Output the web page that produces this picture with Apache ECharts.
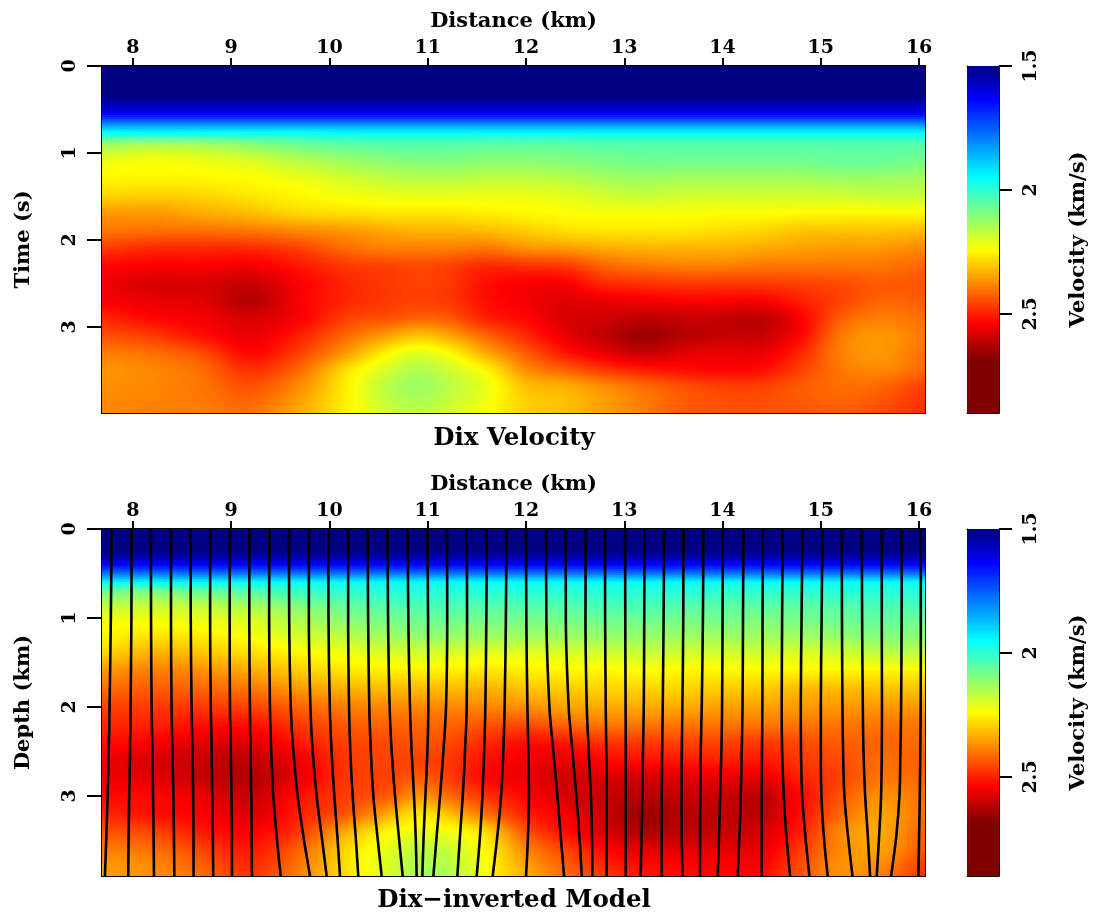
<!DOCTYPE html>
<html><head><meta charset="utf-8">
<style>html,body{margin:0;padding:0;background:#fff}#c{width:1096px;height:913px}</style>
<script src="https://cdn.jsdelivr.net/npm/echarts@6/dist/echarts.min.js"></script>
</head><body><div id="c"></div>
<script>
var FONT='DejaVu Serif';
var xTicks=[8,9,10,11,12,13,14,15,16];
var timeTicks=[0,1,2,3];
var depthTicks=[0,1,2,3];
var barTicks=[1.5,2,2.5];
var xNodes=[7.685,8.2,8.7,9.2,9.7,10.2,10.6,10.9,11.2,11.6,12.0,12.4,12.8,13.2,13.6,14.0,14.4,14.8,15.2,15.6,16.06];
var timeNodes=[0,.3,.45,.56,.66,.77,.9,1.1,1.3,1.5,1.7,1.9,2.1,2.3,2.5,2.7,2.9,3.1,3.3,3.5,3.7,3.99];
var dixVelocity=[
[1.5,1.5,1.5,1.5,1.5,1.5,1.5,1.5,1.5,1.5,1.5,1.5,1.5,1.5,1.5,1.5,1.5,1.5,1.5,1.5,1.5],
[1.5,1.5,1.5,1.5,1.5,1.5,1.5,1.5,1.5,1.5,1.5,1.5,1.5,1.5,1.5,1.5,1.5,1.5,1.5,1.5,1.5],
[1.56,1.56,1.56,1.56,1.56,1.56,1.56,1.56,1.56,1.56,1.56,1.56,1.56,1.56,1.56,1.56,1.56,1.56,1.56,1.56,1.56],
[1.65,1.65,1.65,1.65,1.65,1.65,1.65,1.65,1.65,1.65,1.65,1.65,1.65,1.65,1.65,1.65,1.65,1.65,1.65,1.65,1.65],
[1.80,1.80,1.80,1.80,1.80,1.80,1.80,1.80,1.80,1.80,1.80,1.80,1.80,1.80,1.80,1.80,1.80,1.80,1.80,1.80,1.80],
[1.96,1.96,1.96,1.96,1.96,1.95,1.95,1.95,1.95,1.95,1.95,1.95,1.95,1.95,1.95,1.95,1.95,1.95,1.95,1.95,1.95],
[2.12,2.14,2.13,2.10,2.07,2.05,2.04,2.04,2.04,2.05,2.05,2.05,2.04,2.04,2.04,2.04,2.04,2.04,2.04,2.04,2.04],
[2.22,2.23,2.22,2.20,2.16,2.13,2.11,2.10,2.10,2.11,2.11,2.10,2.09,2.08,2.08,2.08,2.08,2.08,2.07,2.07,2.09],
[2.25,2.25,2.25,2.24,2.22,2.19,2.17,2.16,2.16,2.17,2.17,2.16,2.14,2.13,2.14,2.14,2.14,2.14,2.13,2.13,2.14],
[2.29,2.30,2.29,2.27,2.25,2.23,2.22,2.22,2.22,2.22,2.22,2.21,2.19,2.18,2.19,2.19,2.19,2.19,2.19,2.18,2.18],
[2.36,2.36,2.34,2.32,2.29,2.28,2.27,2.27,2.27,2.26,2.25,2.24,2.235,2.235,2.235,2.24,2.24,2.245,2.25,2.25,2.25],
[2.40,2.41,2.41,2.40,2.38,2.36,2.34,2.33,2.33,2.32,2.30,2.28,2.27,2.27,2.27,2.28,2.29,2.31,2.31,2.31,2.32],
[2.47,2.49,2.49,2.49,2.46,2.41,2.39,2.39,2.39,2.40,2.37,2.36,2.34,2.33,2.33,2.33,2.34,2.35,2.36,2.36,2.38],
[2.53,2.54,2.54,2.55,2.51,2.47,2.46,2.45,2.46,2.49,2.48,2.47,2.42,2.40,2.39,2.39,2.40,2.40,2.40,2.40,2.42],
[2.55,2.58,2.58,2.60,2.54,2.49,2.47,2.46,2.47,2.52,2.54,2.54,2.49,2.48,2.47,2.47,2.47,2.46,2.45,2.43,2.44],
[2.54,2.56,2.57,2.62,2.54,2.49,2.47,2.46,2.47,2.52,2.55,2.57,2.56,2.55,2.54,2.54,2.54,2.50,2.46,2.42,2.43],
[2.49,2.53,2.55,2.58,2.54,2.46,2.44,2.42,2.43,2.50,2.53,2.58,2.59,2.61,2.60,2.60,2.61,2.54,2.43,2.39,2.41],
[2.44,2.47,2.52,2.56,2.50,2.41,2.35,2.31,2.34,2.42,2.49,2.56,2.61,2.65,2.62,2.60,2.60,2.53,2.40,2.36,2.40],
[2.39,2.41,2.45,2.53,2.46,2.35,2.25,2.21,2.24,2.34,2.43,2.51,2.56,2.60,2.57,2.56,2.56,2.49,2.39,2.36,2.41],
[2.36,2.38,2.41,2.48,2.41,2.27,2.19,2.15,2.18,2.25,2.37,2.42,2.47,2.50,2.52,2.53,2.52,2.46,2.40,2.38,2.42],
[2.37,2.38,2.40,2.44,2.37,2.25,2.16,2.13,2.16,2.22,2.31,2.33,2.37,2.41,2.44,2.46,2.46,2.43,2.41,2.42,2.47],
[2.38,2.39,2.39,2.40,2.33,2.25,2.19,2.17,2.19,2.24,2.29,2.31,2.35,2.39,2.43,2.44,2.44,2.44,2.43,2.45,2.49]];
var depthNodes=[0,.2,.3,.4,.5,.6,.7,.85,1,1.2,1.4,1.6,1.8,2,2.2,2.4,2.6,2.8,3,3.2,3.4,3.6,3.75,3.9];
var modelVelocity=[
[1.5,1.5,1.5,1.5,1.5,1.5,1.5,1.5,1.5,1.5,1.5,1.5,1.5,1.5,1.5,1.5,1.5,1.5,1.5,1.5,1.5],
[1.5,1.5,1.5,1.5,1.5,1.5,1.5,1.5,1.5,1.5,1.5,1.5,1.5,1.5,1.5,1.5,1.5,1.5,1.5,1.5,1.5],
[1.54,1.54,1.54,1.54,1.54,1.54,1.54,1.54,1.54,1.54,1.54,1.54,1.54,1.54,1.54,1.54,1.54,1.54,1.54,1.54,1.54],
[1.64,1.64,1.64,1.64,1.64,1.64,1.64,1.64,1.64,1.64,1.64,1.64,1.64,1.64,1.64,1.64,1.64,1.64,1.64,1.64,1.64],
[1.78,1.78,1.78,1.78,1.78,1.78,1.78,1.78,1.78,1.78,1.78,1.78,1.78,1.78,1.78,1.78,1.78,1.78,1.78,1.78,1.78],
[1.95,1.95,1.95,1.95,1.95,1.95,1.95,1.95,1.95,1.95,1.95,1.95,1.95,1.95,1.95,1.95,1.95,1.95,1.95,1.95,1.95],
[2.07,2.08,2.06,2.04,2.01,2.00,1.99,1.99,1.99,1.99,1.99,1.99,1.99,1.99,1.99,2.00,2.00,2.00,1.99,1.99,1.99],
[2.16,2.17,2.16,2.13,2.09,2.06,2.04,2.03,2.03,2.04,2.04,2.04,2.03,2.03,2.04,2.05,2.05,2.05,2.04,2.03,2.03],
[2.22,2.22,2.21,2.19,2.14,2.10,2.08,2.07,2.07,2.08,2.08,2.08,2.07,2.07,2.08,2.08,2.09,2.08,2.07,2.06,2.07],
[2.25,2.27,2.26,2.23,2.19,2.16,2.13,2.12,2.12,2.13,2.13,2.13,2.12,2.12,2.13,2.13,2.13,2.13,2.12,2.10,2.11],
[2.29,2.33,2.31,2.28,2.25,2.22,2.20,2.19,2.20,2.21,2.21,2.20,2.19,2.18,2.19,2.19,2.19,2.20,2.19,2.17,2.17],
[2.36,2.39,2.37,2.34,2.30,2.27,2.26,2.26,2.26,2.27,2.26,2.25,2.25,2.24,2.25,2.25,2.25,2.25,2.25,2.25,2.25],
[2.41,2.43,2.42,2.40,2.36,2.33,2.32,2.32,2.32,2.33,2.31,2.30,2.29,2.29,2.29,2.30,2.30,2.32,2.32,2.31,2.31],
[2.46,2.47,2.47,2.46,2.42,2.39,2.38,2.38,2.38,2.38,2.37,2.35,2.34,2.34,2.34,2.35,2.35,2.36,2.36,2.36,2.36],
[2.49,2.50,2.52,2.52,2.47,2.43,2.42,2.42,2.42,2.44,2.45,2.42,2.40,2.40,2.40,2.40,2.40,2.40,2.40,2.40,2.40],
[2.52,2.54,2.57,2.57,2.51,2.46,2.45,2.44,2.45,2.49,2.52,2.51,2.48,2.47,2.46,2.46,2.47,2.45,2.43,2.42,2.41],
[2.55,2.58,2.60,2.61,2.55,2.47,2.46,2.46,2.47,2.52,2.55,2.56,2.53,2.52,2.51,2.50,2.51,2.47,2.45,2.41,2.43],
[2.55,2.57,2.60,2.62,2.56,2.47,2.46,2.43,2.46,2.53,2.56,2.59,2.58,2.59,2.57,2.56,2.56,2.50,2.46,2.40,2.42],
[2.53,2.53,2.56,2.60,2.52,2.46,2.43,2.36,2.41,2.48,2.53,2.58,2.60,2.62,2.60,2.60,2.61,2.53,2.44,2.37,2.41],
[2.49,2.52,2.54,2.58,2.50,2.43,2.34,2.27,2.31,2.41,2.50,2.55,2.60,2.65,2.62,2.61,2.61,2.52,2.42,2.35,2.41],
[2.44,2.46,2.51,2.54,2.47,2.33,2.25,2.22,2.23,2.29,2.44,2.52,2.58,2.63,2.61,2.60,2.58,2.50,2.38,2.34,2.43],
[2.39,2.41,2.46,2.51,2.42,2.28,2.21,2.17,2.18,2.25,2.38,2.46,2.53,2.57,2.57,2.57,2.56,2.47,2.38,2.35,2.44],
[2.36,2.38,2.43,2.49,2.40,2.27,2.20,2.15,2.16,2.24,2.35,2.43,2.50,2.53,2.54,2.54,2.54,2.45,2.37,2.37,2.47],
[2.35,2.37,2.41,2.47,2.38,2.27,2.20,2.14,2.15,2.24,2.33,2.41,2.47,2.51,2.52,2.53,2.52,2.44,2.37,2.39,2.49]];
var barX=[0,1];
var barY=[1.5,1.637,1.95,2.09,2.24,2.39,2.536,2.685,2.9];
var barGrid=[[1.5,1.5],[1.637,1.637],[1.95,1.95],[2.09,2.09],[2.24,2.24],[2.39,2.39],[2.536,2.536],[2.685,2.685],[2.9,2.9]];
var rayDepths=[0,1,2,2.5,3,3.45,3.9];
var rays=[
[7.783,7.775,7.762,7.754,7.742,7.729,7.715],
[7.986,7.984,7.976,7.970,7.962,7.956,7.952],
[8.183,8.184,8.190,8.198,8.205,8.210,8.214],
[8.387,8.387,8.393,8.402,8.411,8.417,8.421],
[8.587,8.588,8.597,8.606,8.613,8.616,8.617],
[8.787,8.785,8.792,8.800,8.807,8.813,8.817],
[8.987,8.984,8.987,8.995,9.003,9.007,9.008],
[9.184,9.184,9.190,9.196,9.204,9.208,9.211],
[9.388,9.386,9.394,9.407,9.428,9.462,9.503],
[9.588,9.590,9.606,9.632,9.676,9.734,9.802],
[9.791,9.790,9.806,9.829,9.869,9.920,9.971],
[9.988,9.990,10.003,10.021,10.049,10.080,10.107],
[10.190,10.190,10.199,10.212,10.236,10.266,10.293],
[10.389,10.393,10.405,10.421,10.446,10.487,10.531],
[10.592,10.596,10.612,10.633,10.667,10.705,10.745],
[10.796,10.802,10.819,10.836,10.860,10.877,10.887],
[10.996,11.003,11.006,10.996,10.976,10.958,10.945],
[11.196,11.198,11.186,11.159,11.125,11.091,11.057],
[11.396,11.400,11.396,11.379,11.356,11.328,11.301],
[11.600,11.596,11.586,11.574,11.556,11.532,11.498],
[11.800,11.795,11.782,11.769,11.746,11.708,11.661],
[12.000,12.003,12.014,12.024,12.030,12.020,12.000],
[12.204,12.207,12.238,12.278,12.319,12.353,12.387],
[12.404,12.405,12.434,12.472,12.512,12.543,12.567],
[12.607,12.605,12.618,12.638,12.660,12.672,12.675],
[12.804,12.805,12.811,12.817,12.821,12.821,12.821],
[13.008,13.010,13.013,13.015,13.015,13.015,13.015],
[13.205,13.203,13.198,13.190,13.184,13.176,13.167],
[13.405,13.400,13.391,13.385,13.381,13.381,13.381],
[13.601,13.600,13.591,13.585,13.582,13.584,13.593],
[13.805,13.800,13.788,13.778,13.773,13.771,13.771],
[14.002,14.000,13.995,13.988,13.975,13.964,13.951],
[14.212,14.208,14.203,14.195,14.185,14.171,14.154],
[14.409,14.407,14.405,14.401,14.399,14.399,14.399],
[14.612,14.606,14.602,14.606,14.623,14.649,14.687],
[14.813,14.804,14.796,14.798,14.810,14.842,14.884],
[15.016,15.008,15.000,15.000,15.006,15.030,15.070],
[15.213,15.215,15.220,15.226,15.240,15.276,15.322],
[15.417,15.420,15.427,15.434,15.451,15.478,15.501],
[15.620,15.620,15.622,15.620,15.613,15.593,15.569],
[15.824,15.822,15.817,15.810,15.800,15.768,15.715],
[16.017,16.017,16.016,16.012,16.007,16.000,15.993]];

var colorStops=[[1.5,[0,0,128]],[1.637,[0,0,255]],[1.95,[0,255,255]],[2.24,[255,255,0]],[2.536,[255,0,0]],[2.685,[128,0,0]],[2.9,[128,0,0]]];
function colorOf(v){
  if(v<=1.5)return 'rgb(0,0,128)';
  for(var i=1;i<colorStops.length;i++){ if(v<=colorStops[i][0]){
    var a=colorStops[i-1],b=colorStops[i],t=(v-a[0])/(b[0]-a[0]);
    return 'rgb('+Math.round(a[1][0]+(b[1][0]-a[1][0])*t)+','+Math.round(a[1][1]+(b[1][1]-a[1][1])*t)+','+Math.round(a[1][2]+(b[1][2]-a[1][2])*t)+')';
  }}
  return 'rgb(128,0,0)';
}
// display-only resampling between the read nodes (cubic Hermite), so the picture is continuous like the source raster
function hermite(nodes,get,i,t){
  var n=nodes.length,h=nodes[i+1]-nodes[i],p0=get(i),p1=get(i+1);
  var m0=i>0?(p1-get(i-1))/(nodes[i+1]-nodes[i-1]):(p1-p0)/h;
  var m1=i<n-2?(get(i+2)-p0)/(nodes[i+2]-nodes[i]):(p1-p0)/h;
  var t2=t*t,t3=t2*t;
  return (2*t3-3*t2+1)*p0+(t3-2*t2+t)*h*m0+(-2*t3+3*t2)*p1+(t3-t2)*h*m1;
}
function heatSeries(xs,ys,grid,axisX,axisY){
  var d=[];
  for(var j=0;j<ys.length-1;j++)for(var i=0;i<xs.length-1;i++)d.push([xs[i],ys[j],grid[j][i],i,j]);
  return {type:'custom',xAxisIndex:axisX,yAxisIndex:axisY,silent:true,animation:false,progressive:0,clip:true,
    encode:{x:0,y:1},data:d,
    renderItem:function(p,api){
      var i=api.value(3),j=api.value(4);
      var a=api.coord([xs[i],ys[j]]),b=api.coord([xs[i+1],ys[j+1]]);
      var x0=Math.round(a[0]),x1=Math.round(b[0]),y0=Math.round(a[1]),y1=Math.round(b[1]);
      var kids=[],STOPS=6,H=2;
      for(var y=y0;y<y1;y+=H){
        var h=Math.min(H,y1-y),ty=Math.min(1,Math.max(0,(y+h/2-a[1])/(b[1]-a[1])));
        var st=[];
        for(var k=0;k<=STOPS;k++){
          (function(tx){
            var v=hermite(ys,function(r){return hermite(xs,function(c){return grid[r][c];},i,tx);},j,ty);
            st.push({offset:tx,color:colorOf(v)});
          })(k/STOPS);
        }
        kids.push({type:'rect',shape:{x:x0,y:y,width:x1-x0,height:h},
          style:{fill:new echarts.graphic.LinearGradient(0,0,1,0,st)}});
      }
      return {type:'group',children:kids};
    }};
}
var black='#000';
var nameStyle={fontFamily:FONT,fontWeight:'bold',fontSize:21,color:black};
var LINE={show:true,onZero:false,lineStyle:{color:black,width:2}};
var THIN={show:true,onZero:false,lineStyle:{color:'#111',width:1}};
var tickFont={fontFamily:FONT,fontWeight:'bold',fontSize:19,color:black};
function panelAxes(gx,gy,idx,yTicks,yName,yMax){
  gx.push({gridIndex:idx,type:'value',position:'top',min:7.685,max:16.06,name:'Distance (km)',nameLocation:'middle',nameGap:34,nameTextStyle:nameStyle,
    axisLine:LINE,splitLine:{show:false},axisTick:{length:8,customValues:xTicks,lineStyle:{color:black,width:2}},
    axisLabel:Object.assign({margin:8,customValues:xTicks},tickFont)});
  gx.push({gridIndex:idx,type:'value',position:'bottom',min:7.685,max:16.06,axisLine:LINE,splitLine:{show:false},axisTick:{show:false},axisLabel:{show:false}});
  gy.push({gridIndex:idx,type:'value',position:'left',inverse:true,min:0,max:yMax,name:yName,nameLocation:'middle',nameGap:68,nameRotate:90,nameTextStyle:nameStyle,
    axisLine:LINE,splitLine:{show:false},axisTick:{length:15,customValues:yTicks,lineStyle:{color:black,width:2}},
    axisLabel:Object.assign({margin:22,rotate:90,customValues:yTicks},tickFont)});
  gy.push({gridIndex:idx,type:'value',position:'right',inverse:true,min:0,max:yMax,axisLine:LINE,splitLine:{show:false},axisTick:{show:false},axisLabel:{show:false}});
}
function barAxes(gx,gy,idx){
  gx.push({gridIndex:idx,type:'value',position:'bottom',min:0,max:1,axisLine:THIN,splitLine:{show:false},axisTick:{show:false},axisLabel:{show:false}});
  gx.push({gridIndex:idx,type:'value',position:'top',min:0,max:1,axisLine:THIN,splitLine:{show:false},axisTick:{show:false},axisLabel:{show:false}});
  gy.push({gridIndex:idx,type:'value',position:'right',inverse:true,min:1.5,max:2.9,name:'Velocity (km/s)',nameLocation:'middle',nameGap:69,nameRotate:90,nameTextStyle:nameStyle,
    axisLine:THIN,splitLine:{show:false},axisTick:{length:13,customValues:barTicks,lineStyle:{color:black,width:2}},
    axisLabel:Object.assign({margin:23,rotate:90,customValues:barTicks,formatter:function(v){return String(v);}},tickFont)});
  gy.push({gridIndex:idx,type:'value',position:'left',inverse:true,min:1.5,max:2.9,axisLine:THIN,splitLine:{show:false},axisTick:{show:false},axisLabel:{show:false}});
}
var gx=[],gy=[];
panelAxes(gx,gy,0,timeTicks,'Time (s)',3.99);
barAxes(gx,gy,1);
panelAxes(gx,gy,2,depthTicks,'Depth (km)',3.9);
barAxes(gx,gy,3);
var series=[
  heatSeries(xNodes,timeNodes,dixVelocity,0,0),
  heatSeries(barX,barY,barGrid,2,2),
  heatSeries(xNodes,depthNodes,modelVelocity,4,4),
  heatSeries(barX,barY,barGrid,6,6)
];
rays.forEach(function(r){
  series.push({type:'line',xAxisIndex:4,yAxisIndex:4,smooth:0.35,showSymbol:false,animation:false,silent:true,clip:true,
    lineStyle:{color:black,width:2.6},z:5,
    data:r.map(function(x,k){return [x,rayDepths[k]];})});
});
var chart=echarts.init(document.getElementById('c'),null,{renderer:'canvas'});
chart.setOption({
  animation:false,backgroundColor:'#fff',
  title:[
    {text:'Dix Velocity',left:509,top:421,textAlign:'center',textStyle:{fontFamily:FONT,fontWeight:'bold',fontSize:24.5,color:black}},
    {text:'Dix\u2212inverted Model',left:509,top:883,textAlign:'center',textStyle:{fontFamily:FONT,fontWeight:'bold',fontSize:24.5,color:black}}
  ],
  grid:[
    {left:102,top:66,width:823,height:347},
    {left:967,top:66,width:32,height:347},
    {left:102,top:529,width:823,height:347},
    {left:967,top:529,width:32,height:347}
  ],
  xAxis:gx,yAxis:gy,series:series
});
</script></body></html>
